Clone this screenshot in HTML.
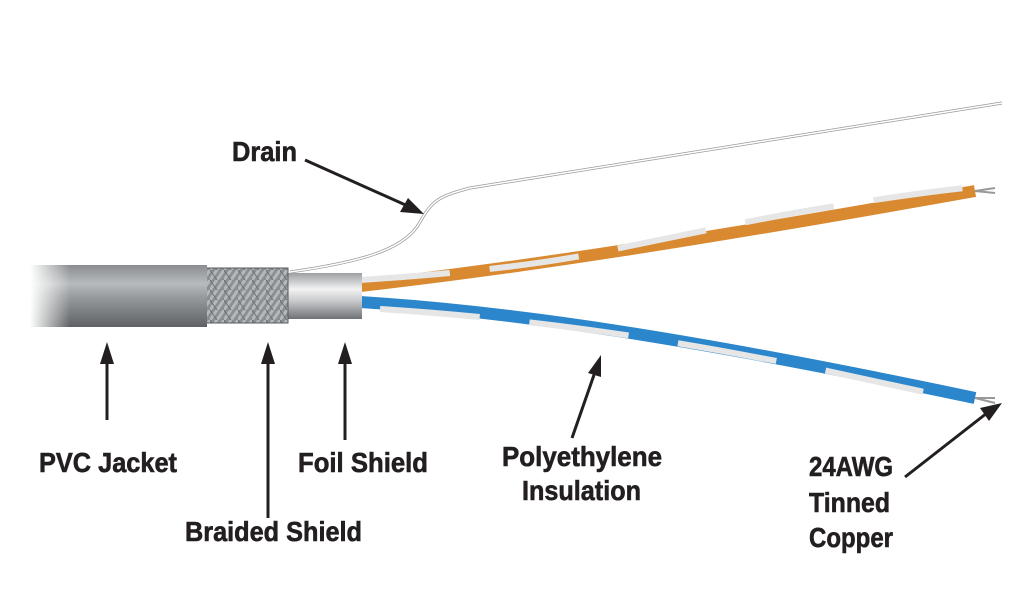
<!DOCTYPE html>
<html><head><meta charset="utf-8"><style>
html,body{margin:0;padding:0;background:#fff;width:1024px;height:593px;overflow:hidden}
text{font-family:"Liberation Sans Narrow","Liberation Sans",sans-serif;font-weight:bold;font-size:28px;fill:#231f20;stroke:#231f20;stroke-width:0.6}
</style></head><body>
<svg width="1024" height="593" viewBox="0 0 1024 593" xmlns="http://www.w3.org/2000/svg">
<defs>
<linearGradient id="jk" x1="0" y1="0" x2="0" y2="1">
<stop offset="0" stop-color="#8a8d90"/><stop offset="0.3" stop-color="#b8bbbe"/><stop offset="0.5" stop-color="#9a9da0"/><stop offset="1" stop-color="#5f6265"/></linearGradient>
<linearGradient id="fade" x1="0" y1="0" x2="1" y2="0">
<stop offset="0" stop-color="#fff" stop-opacity="1"/><stop offset="1" stop-color="#fff" stop-opacity="0"/></linearGradient>
<linearGradient id="fl" x1="0" y1="0" x2="0" y2="1">
<stop offset="0" stop-color="#9da0a3"/><stop offset="0.35" stop-color="#f2f2f2"/><stop offset="0.6" stop-color="#c9cbcd"/><stop offset="1" stop-color="#6f7275"/></linearGradient>
<pattern id="br" width="14" height="10" patternUnits="userSpaceOnUse">
<rect width="14" height="10" fill="#8c8f92"/><path d="M0 10 L7 0 M7 10 L14 0" stroke="#b5b8ba" stroke-width="3"/><path d="M0 0 L7 10" stroke="#6f7274" stroke-width="1"/></pattern>
</defs>
<path d="M290 272 C360 262 405 250 420 222 C432 200 440 196 470 188 L1002 103" fill="none" stroke="#999" stroke-width="3"/>
<path d="M290 272 C360 262 405 250 420 222 C432 200 440 196 470 188 L1002 103" fill="none" stroke="#fff" stroke-width="1.5"/>
<path d="M360 286 C520 268 700 240 975 191" fill="none" stroke="#d9892f" stroke-width="12"/>
<path d="M360 280 C480 272 560 262 620 248 C700 232 760 218 830 207 C880 199 920 193 965 188" fill="none" stroke="#e6e6e6" stroke-width="6" stroke-dasharray="90 40"/>
<path d="M975 191 l20 -3 M975 191 l20 2" stroke="#999" stroke-width="2"/>
<path d="M360 302 C520 312 700 340 975 398" fill="none" stroke="#2b86cc" stroke-width="12"/>
<path d="M380 309 C520 318 640 335 760 358 C840 372 900 388 965 400" fill="none" stroke="#e6e6e6" stroke-width="6" stroke-dasharray="100 50"/>
<path d="M975 398 l20 0 M975 398 l20 5" stroke="#999" stroke-width="2"/>
<rect x="286" y="273" width="76" height="46" fill="url(#fl)"/>
<rect x="206" y="268" width="82" height="55" fill="url(#br)"/>
<rect x="206" y="268" width="82" height="55" fill="none" stroke="#55585b" stroke-width="1"/>
<rect x="30" y="265" width="177" height="62" fill="url(#jk)"/>
<rect x="30" y="262" width="40" height="68" fill="url(#fade)"/>
<g stroke="#231f20" stroke-width="3" fill="#231f20">
<line x1="305" y1="160" x2="410" y2="207"/><polygon points="424,214 400,212 408,198" stroke="none"/>
<line x1="107" y1="420" x2="107" y2="360"/><polygon points="107,342 100,364 114,364" stroke="none"/>
<line x1="268" y1="518" x2="268" y2="360"/><polygon points="268,342 261,364 275,364" stroke="none"/>
<line x1="345" y1="440" x2="345" y2="360"/><polygon points="345,342 338,364 352,364" stroke="none"/>
<line x1="572" y1="438" x2="595" y2="372"/><polygon points="601,355 588,373 601,377" stroke="none"/>
<line x1="905" y1="477" x2="987" y2="413"/><polygon points="1002,403 980,408 989,421" stroke="none"/>
</g>
<text x="232" y="161" textLength="65" lengthAdjust="spacingAndGlyphs">Drain</text>
<text x="39" y="472" textLength="138" lengthAdjust="spacingAndGlyphs">PVC Jacket</text>
<text x="185" y="541" textLength="177" lengthAdjust="spacingAndGlyphs">Braided Shield</text>
<text x="298" y="472" textLength="130" lengthAdjust="spacingAndGlyphs">Foil Shield</text>
<text x="502" y="466" textLength="160" lengthAdjust="spacingAndGlyphs">Polyethylene</text>
<text x="522" y="500" textLength="119" lengthAdjust="spacingAndGlyphs">Insulation</text>
<text x="809" y="476" textLength="84" lengthAdjust="spacingAndGlyphs">24AWG</text>
<text x="809" y="512" textLength="81" lengthAdjust="spacingAndGlyphs">Tinned</text>
<text x="809" y="547" textLength="84" lengthAdjust="spacingAndGlyphs">Copper</text>
</svg>
</body></html>
